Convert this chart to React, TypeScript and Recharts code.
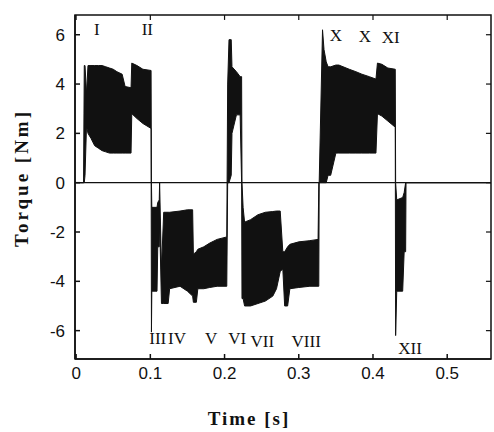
import React from 'react';
import { ComposedChart, Area, XAxis, YAxis, ReferenceLine, ReferenceDot, ReferenceArea } from 'recharts';

// time samples [s] and the lower / upper envelope of the torque ripple [Nm]
const time = [
  0, 0.01, 0.011, 0.012, 0.014, 0.016, 0.02, 0.025, 0.03, 0.035, 0.04, 0.045, 0.05, 0.055, 0.062, 0.066, 0.074,
  0.075, 0.082, 0.09, 0.101, 0.1015, 0.102, 0.109, 0.11, 0.112, 0.1125, 0.115, 0.118, 0.124, 0.126, 0.14,
  0.15, 0.157, 0.158, 0.162, 0.164, 0.172, 0.18, 0.19, 0.203, 0.2042, 0.206, 0.209, 0.21, 0.216, 0.221,
  0.223, 0.2235, 0.225, 0.227, 0.235, 0.245, 0.255, 0.265, 0.27, 0.275, 0.2785, 0.281, 0.285, 0.288, 0.3,
  0.315, 0.326, 0.327, 0.3275, 0.332, 0.334, 0.337, 0.3395, 0.343, 0.35, 0.354, 0.368, 0.377, 0.385, 0.395,
  0.404, 0.406, 0.412, 0.42, 0.43, 0.4305, 0.432, 0.44, 0.442, 0.444, 0.4445, 0.559,
];
const low = [
  0, 0, 0, 0.3, 2.3, 2.0, 1.8, 1.5, 1.4, 1.3, 1.25, 1.2, 1.2, 1.2, 1.2, 1.2, 1.2,
  2.8, 2.6, 2.4, 2.2, -6.06, -4.4, -4.4, -2.6, -2.6, -1.5, -4.9, -4.9, -4.9, -4.3, -4.2,
  -4.4, -4.6, -4.85, -4.85, -4.3, -4.3, -4.25, -4.2, -4.2, 0, 0, 0.3, 2.0, 2.75, 2.75,
  0, -4.7, -4.7, -5.0, -5.0, -4.9, -4.8, -4.6, -4.3, -3.6, -3.5, -5.0, -5.0, -4.3, -4.25,
  -4.2, -4.2, -4.2, 0, 0, 0, 0, 0.3, 0.3, 1.2, 1.2, 1.2, 1.2, 1.2, 1.2,
  1.2, 2.8, 2.7, 2.5, 2.25, -6.2, -4.4, -4.4, -2.8, -2.8, 0, 0,
];
const high = [
  0, 0, 4.75, 4.75, 3.6, 4.75, 4.75, 4.75, 4.75, 4.75, 4.7, 4.65, 4.6, 4.5, 4.4, 3.9, 3.85,
  4.85, 4.75, 4.6, 4.55, 0, -1.0, -1.0, -0.8, -0.7, 0, -3.5, -1.2, -1.2, -1.2, -1.15,
  -1.1, -1.1, -2.9, -2.8, -2.7, -2.6, -2.45, -2.3, -2.2, 4.0, 5.8, 5.8, 4.7, 4.5, 4.3,
  4.3, 0, -1.0, -1.6, -1.5, -1.3, -1.2, -1.17, -1.15, -1.15, -2.8, -2.8, -2.6, -2.5, -2.4,
  -2.35, -2.3, 0, 0, 6.2, 5.4, 4.9, 4.7, 4.7, 4.77, 4.77, 4.6, 4.5, 4.4, 4.3,
  4.2, 4.85, 4.8, 4.65, 4.6, 0, -0.7, -0.6, -0.4, 0, 0, 0,
];

const xTicks = [0, 0.1, 0.2, 0.3, 0.4, 0.5];
const yTicks = [-6, -4, -2, 0, 2, 4, 6];

// operating interval marks
const markText = ['I', 'II', 'X', 'X', 'XI', 'III', 'IV', 'V', 'VI', 'VII', 'VIII', 'XII'];
const markTime = [0.028, 0.096, 0.35, 0.389, 0.424, 0.11, 0.136, 0.182, 0.217, 0.251, 0.31, 0.45];
const markTorque = [6.22, 6.22, 6.0, 5.94, 5.9, -6.3, -6.3, -6.3, -6.3, -6.4, -6.4, -6.7];

const data = time.map((t, i) => ({ t, band: [low[i], high[i]] }));

const ink = '#111';
const xDomain = [-0.0015, 0.559];
const yDomain = [-7.15, 6.8];

export default function App() {
  const tickFont = { fill: ink, fontSize: 17, fontFamily: 'Liberation Sans' };
  return (
    <div style={{ position: 'absolute', left: 0, top: 0, width: 494, height: 432, background: '#fff' }}>
      <ComposedChart width={494} height={432} data={data} margin={{ top: 15, right: 3, bottom: 0, left: 0 }}>
        <XAxis
          dataKey="t"
          type="number"
          domain={xDomain}
          ticks={xTicks}
          allowDataOverflow
          height={73}
          tickSize={-5}
          tickMargin={13}
          stroke={ink}
          strokeWidth={1.5}
          tick={tickFont}
        />
        <YAxis
          type="number"
          domain={yDomain}
          ticks={yTicks}
          allowDataOverflow
          width={75}
          tickSize={-5}
          tickMargin={15}
          stroke={ink}
          strokeWidth={1.5}
          tick={tickFont}
        />
        {/* box round the plot, with inward ticks on top and right */}
        <ReferenceArea
          x1={xDomain[0]}
          x2={xDomain[1]}
          y1={yDomain[0]}
          y2={yDomain[1]}
          fill="none"
          stroke={ink}
          strokeWidth={1.5}
        />
        {xTicks.map((t) => (
          <ReferenceLine
            key={'tx' + t}
            segment={[{ x: t, y: yDomain[1] }, { x: t, y: yDomain[1] - 0.2 }]}
            stroke={ink}
            strokeWidth={1.2}
          />
        ))}
        {yTicks.map((v) => (
          <ReferenceLine
            key={'ty' + v}
            segment={[{ x: xDomain[1], y: v }, { x: xDomain[1] - 0.0068, y: v }]}
            stroke={ink}
            strokeWidth={1.2}
          />
        ))}
        <ReferenceLine y={0} stroke={ink} strokeWidth={1.2} />
        <Area
          dataKey="band"
          type="linear"
          stroke={ink}
          strokeWidth={1}
          fill={ink}
          fillOpacity={1}
          dot={false}
          activeDot={false}
          isAnimationActive={false}
        />
        {markText.map((m, i) => (
          <ReferenceDot
            key={i}
            x={markTime[i]}
            y={markTorque[i]}
            r={0}
            fill="none"
            stroke="none"
            label={{ value: m, position: 'center', fill: ink, fontSize: 17, fontFamily: 'Liberation Serif' }}
          />
        ))}
      </ComposedChart>
      <div
        style={{
          position: 'absolute', left: 249, top: 419, transform: 'translate(-50%, -50%)',
          font: 'bold 19px "Liberation Serif"', letterSpacing: 2, whiteSpace: 'nowrap', color: ink,
        }}
      >
        Time [s]
      </div>
      <div
        style={{
          position: 'absolute', left: 22, top: 178, transform: 'translate(-50%, -50%) rotate(-90deg)',
          font: 'bold 19px "Liberation Serif"', letterSpacing: 3, whiteSpace: 'nowrap', color: ink,
        }}
      >
        Torque [Nm]
      </div>
    </div>
  );
}
